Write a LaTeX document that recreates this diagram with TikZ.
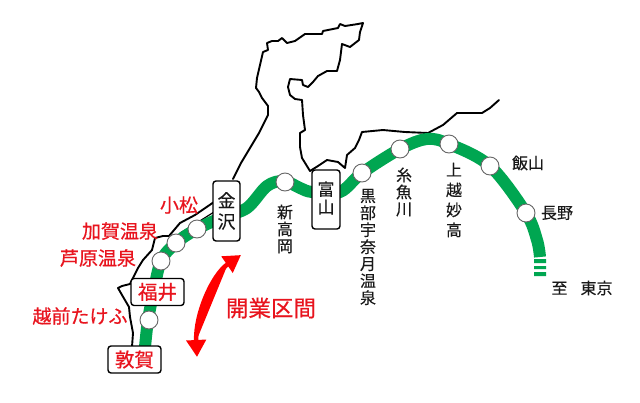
\documentclass[tikz,border=0pt]{standalone}
\usepackage{fontspec}
\setmainfont{Noto Sans CJK JP}
\newfontfamily\heavyfont[FakeBold=0.6]{Noto Sans CJK JP}
\newfontfamily\midfont[FakeBold=0.25]{Noto Sans CJK JP}
\usetikzlibrary{arrows.meta}
\definecolor{railgreen}{RGB}{0,166,81}
\definecolor{labelred}{RGB}{232,20,30}
\tikzset{
  coast/.style={draw=black,line width=1.9pt,line join=round,line cap=round},
  rail/.style={draw=railgreen,line width=12pt},
  station/.style={circle,draw=black!60,fill=white,line width=0.9pt,minimum size=18pt,inner sep=0pt},
  bigstop/.style={draw=black,fill=white,rounded corners=3pt,line width=1.4pt,inner sep=0pt},
  blk/.style={inner sep=0pt,align=center,text=black!90,font=\midfont\fontsize{16}{17}\selectfont},
  red/.style={inner sep=0pt,align=center,text=labelred,font=\heavyfont\fontsize{19}{20}\selectfont},
  redbox/.style={inner sep=0pt,text=labelred,font=\heavyfont\fontsize{19.5}{20}\selectfont},
}
\begin{document}
\begin{tikzpicture}[x=1pt,y=-1pt]
\useasboundingbox (0,0) rectangle (640,402);
\fill[white] (0,0) rectangle (640,402);
% coast
\draw[coast] (132,347) -- (133,333) -- (130,317) -- (129,307) -- (122,295) -- (118,288) -- (122,286) -- (130,284) -- (134,276) -- (138,268) -- (143,260) -- (152,250) -- (155,238) -- (163,236) -- (169,236) -- (180,223) -- (195,215) -- (214,202);
\draw[coast,line width=1.2pt] (180,233) -- (195,224) -- (214,212);
\draw[coast] (233,179) -- (241,163) -- (250,148) -- (259,133) -- (268,115) -- (268,106) -- (262,98) -- (259,92) -- (256,88) -- (257,78) -- (260,65) -- (263,52) -- (268,50) -- (267,43) -- (272,41) -- (278,41) -- (282,38) -- (287,43) -- (295,41) -- (305,34) -- (322,34) -- (323,31) -- (338,28) -- (340,24) -- (345,26) -- (358,24) -- (363,23) -- (360,32) -- (359,40) -- (350,47) -- (342,44) -- (341,52) -- (340,60) -- (337,71) -- (327,71) -- (318,76) -- (313,82) -- (308,87) -- (303,85) -- (302,80) -- (290,79) -- (288,87) -- (290,95) -- (295,99) -- (302,100) -- (303,115) -- (305,130) -- (300,133) -- (300,147) -- (302,158) -- (310,171) -- (318,166) -- (327,160) -- (338,162) -- (345,168) -- (347,155) -- (355,148) -- (359,140) -- (362,132) -- (383,130) -- (405,132) -- (428,133) -- (443,125) -- (457,113) -- (482,113) -- (490,108) -- (499,100);
% rail
\draw[rail] plot[smooth,tension=0.55] coordinates {(145,347) (148,320) (153,295) (161,261) (176,243) (197,229) (223,217) (247,208) (267,186) (284,181) (300,188) (312,192) (340,192) (362,173) (400,149) (427,139) (449,144) (490,166) (526,213) (537,240) (540,257)};
\fill[railgreen] (534,259) rectangle (546,263) (534,266) rectangle (546,269) (534,272) rectangle (546,276);
% stations
\node[station] (takefu) at (149,320) {};
\node[station] (awara) at (161,261) {};
\node[station] (kaga) at (176,243) {};
\node[station] (komatsu) at (197,229) {};
\node[station] (shintakaoka) at (285,182) {};
\node[station] (kurobe) at (362,173) {};
\node[station] (itoigawa) at (400,149) {};
\node[station] (joetsu) at (449,144) {};
\node[station] (iiyama) at (490,166) {};
\node[station] (nagano) at (526,213) {};
% boxes
\node[bigstop,minimum width=53pt,minimum height=27pt] (tsuruga) at (134.5,359.5) {};
\node[redbox] at (tsuruga) {敦賀};
\node[bigstop,minimum width=53pt,minimum height=27pt] (fukui) at (157.5,292) {};
\node[redbox] at (fukui) {福井};
\node[bigstop,minimum width=27pt,minimum height=60pt] (kanazawa) at (226.5,211) {};
\node[blk,font=\midfont\fontsize{18}{21}\selectfont] at (kanazawa) {金\\沢};
\node[bigstop,minimum width=28pt,minimum height=59pt] (toyama) at (326,199.5) {};
\node[blk,font=\midfont\fontsize{17}{18}\selectfont] at (326,198) {富\\山};
% red labels
\node[red] at (179,205) {小松};
\node[red] at (120,231) {加賀温泉};
\node[red] at (98,258) {芦原温泉};
\node[red] at (80,316) {越前たけふ};
\node[red,font=\heavyfont\fontsize{22.5}{24}\selectfont] at (271,308) {開業区間};
% black labels
\node[blk] at (285,229) {新\\高\\岡};
\node[blk] at (368,247) {黒\\部\\宇\\奈\\月\\温\\泉};
\node[blk] at (404,192) {糸\\魚\\川};
\node[blk,font=\midfont\fontsize{16}{20}\selectfont] at (454,200) {上\\越\\妙\\高};
\node[blk] at (528,163) {飯山};
\node[blk] at (557,213) {長野};
\node[blk] at (582,288) {至\hspace{13pt}東京};
% arrow
\coordinate (arrowtop) at (241,255);
\coordinate (arrowbottom) at (197,357);
\draw[{Triangle[length=17pt,width=19pt]}-{Triangle[length=17pt,width=19pt]},draw=red,fill=red,line width=4.5pt] (arrowtop) .. controls (212,275) and (195,315) .. (arrowbottom);
\end{tikzpicture}
\end{document}
